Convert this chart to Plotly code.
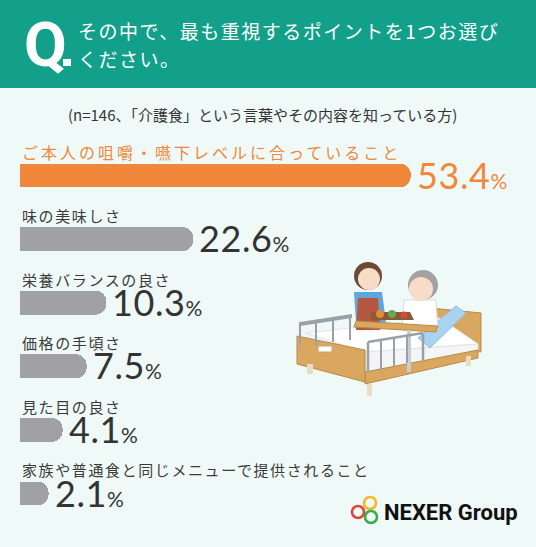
import plotly.graph_objects as go

W, H = 536, 547

categories = [
    "ご本人の咀嚼・嚥下レベルに合っていること",
    "味の美味しさ",
    "栄養バランスの良さ",
    "価格の手頃さ",
    "見た目の良さ",
    "家族や普通食と同じメニューで提供されること",
]
values = [53.4, 22.6, 10.3, 7.5, 4.1, 2.1]
question = ["その中で、最も重視するポイントを1つお選び", "ください。"]
note = "(n=146、「介護食」という言葉やその内容を知っている方)"
brand = "NEXER Group"

ORANGE = "#f0873a"
GRAY = "#a1a1a5"
TEAL = "#13a08b"
BG = "#effaf8"
DARK = "#333333"
JP = "Noto Sans CJK JP"
NUM = "Lato"

PAD = 1.94  # short lead-in so tiny bars still show


def px(x, y):
    return x / W, 1 - y / H


def poly(pts, fill, line=None, lw=1):
    path = "M " + " L ".join("%.4f,%.4f" % px(x, y) for x, y in pts) + " Z"
    return dict(type="path", xref="paper", yref="paper", path=path,
                fillcolor=fill, line=dict(color=line or fill, width=lw if line else 0))


def rect(x0, y0, x1, y1, fill, line=None, lw=1):
    a, b = px(x0, y1)
    c, d = px(x1, y0)
    return dict(type="rect", xref="paper", yref="paper", x0=a, y0=b, x1=c, y1=d,
                fillcolor=fill, line=dict(color=line or fill, width=lw if line else 0))


def circ(cx, cy, r, fill, line=None, lw=1):
    a, b = px(cx - r, cy + r)
    c, d = px(cx + r, cy - r)
    return dict(type="circle", xref="paper", yref="paper", x0=a, y0=b, x1=c, y1=d,
                fillcolor=fill, line=dict(color=line or fill, width=lw if line else 0))


def seg(x0, y0, x1, y1, color, lw=2):
    a, b = px(x0, y0)
    c, d = px(x1, y1)
    return dict(type="line", xref="paper", yref="paper", x0=a, y0=b, x1=c, y1=d,
                line=dict(color=color, width=lw))


ys = list(range(len(values)))
colors = [ORANGE] + [GRAY] * (len(values) - 1)

fig = go.Figure()
# lead-in segment (square end) + value segment (rounded end), stacked
fig.add_trace(go.Bar(
    x=[PAD] * len(values), y=ys, orientation="h",
    marker=dict(color=colors, line=dict(width=0)), width=0.377,
    hoverinfo="skip", showlegend=False,
))
fig.add_trace(go.Bar(
    x=values, y=ys, orientation="h",
    marker=dict(color=colors, line=dict(width=0)), width=0.377,
    hoverinfo="skip", showlegend=False,
))

annotations = []
for i, (c, v) in enumerate(zip(categories, values)):
    col = ORANGE if i == 0 else DARK
    annotations.append(dict(
        x=20 / W, xref="paper", y=i - 0.37, yref="y", xanchor="left", yanchor="middle",
        text="<span style='letter-spacing:%spx'>%s</span>" % ("3" if i == 0 else "1.6", c),
        showarrow=False, font=dict(family=JP, size=16 if i == 0 else 15,
                                   color=ORANGE if i == 0 else "#3a3a3a"),
    ))
    annotations.append(dict(
        x=v + PAD, xref="x", y=i, yref="y", xanchor="left", yanchor="middle", xshift=4, yshift=1,
        text="<span style='letter-spacing:0.6px'>%s</span><span style='font-size:21px'>%%</span>" % v,
        showarrow=False, font=dict(family=NUM, size=36, color=col),
    ))

# header
annotations.append(dict(x=22 / W, y=1 - 44 / H, xref="paper", yref="paper", xanchor="left",
                        yanchor="middle", text="<b>Q</b>", showarrow=False,
                        font=dict(family="Roboto", size=62, color="white")))
for k, line in enumerate(question):
    annotations.append(dict(x=76 / W, y=1 - (31 + 27 * k) / H, xref="paper", yref="paper",
                            xanchor="left", yanchor="middle", showarrow=False,
                            text="<span style='letter-spacing:1.5px'>%s</span>" % line,
                            font=dict(family=JP, size=19, color="white")))
annotations.append(dict(x=262 / W, y=1 - 115 / H, xref="paper", yref="paper",
                        xanchor="center", yanchor="middle", showarrow=False, text=note,
                        font=dict(family=JP, size=15, color=DARK)))
annotations.append(dict(x=382 / W, y=1 - 512 / H, xref="paper", yref="paper",
                        xanchor="left", yanchor="middle", showarrow=False,
                        text="<b>%s</b>" % brand,
                        font=dict(family="Roboto", size=22, color="#111111")))

TAN = "#d9a75f"
TAN_D = "#b98a45"
RAIL = "#9aa0a8"
shapes = [
    rect(0, 0, W, 88, TEAL),
    rect(63, 59, 71, 66, "white"),
    # back rail
    poly([(300, 322), (352, 314), (352, 318), (300, 326)], RAIL),
    # headboard
    poly([(430, 308), (481, 313), (481, 352), (440, 348)], TAN, TAN_D),
    # mattress
    poly([(305, 333), (440, 318), (478, 344), (365, 352)], "white", "#dfe4e6"),
    poly([(365, 352), (478, 344), (478, 352), (365, 372)], "#f3f5f6", "#dfe4e6"),
    # backrest
    poly([(418, 338), (456, 306), (466, 313), (430, 348)], "#a9d3ef", "#8cbfe2"),
    # base rail
    poly([(365, 372), (478, 350), (478, 358), (365, 384)], TAN, TAN_D),
    # footboard
    poly([(297, 336), (365, 350), (365, 382), (297, 364)], TAN, TAN_D),
    rect(318, 346, 332, 352, "white", "#c9a26a"),
    # legs
    rect(307, 364, 313, 374, "#e9dcc1"),
    rect(367, 384, 372, 396, "#e9dcc1"),
    rect(466, 356, 471, 366, "#e9dcc1"),
    # nurse
    poly([(354, 292), (382, 292), (386, 322), (356, 322)], "#5ea6dc"),
    poly([(358, 298), (378, 298), (380, 330), (356, 330)], "#b5573f"),
    circ(368, 276, 14, "#6b4a3a"),
    circ(369, 279, 11, "#f8dcc8"),
    # patient
    poly([(404, 300), (436, 300), (438, 330), (402, 330)], "white", "#d6dadc"),
    circ(423, 285, 15, "#a2a2a2"),
    circ(421, 289, 12, "#f8dcc8"),
    # table and tray
    poly([(356, 321), (438, 326), (436, 332), (354, 327)], TAN, TAN_D),
    rect(407, 330, 411, 372, "#c9ccd0"),
    poly([(372, 312), (410, 312), (414, 320), (370, 320)], "#8a5a36"),
    circ(380, 314, 4, "#e08a3c"),
    circ(392, 314, 4, "#6aa84f"),
    circ(404, 315, 3.5, "#d64b3a"),
    # rails
    seg(368, 342, 423, 333, RAIL, 2.5),
    seg(368, 342, 368, 372, RAIL, 2.5),
    seg(381, 340, 381, 370, RAIL, 2),
    seg(394, 338, 394, 366, RAIL, 2),
    seg(407, 336, 407, 363, RAIL, 2),
    seg(423, 333, 423, 360, RAIL, 2.5),
    seg(300, 322, 300, 345, RAIL, 2),
    seg(316, 320, 316, 345, RAIL, 2),
    seg(333, 317, 333, 342, RAIL, 2),
    seg(350, 315, 350, 340, RAIL, 2),
    # logo rings
    circ(370, 503, 6, "rgba(0,0,0,0)", "#f2b929", 2.6),
    circ(358, 512, 6, "rgba(0,0,0,0)", "#e0463a", 2.6),
    circ(371, 517, 6, "rgba(0,0,0,0)", "#3aaa4a", 2.6),
]

x_left = -20 / 7.06
x_right = (W - 20) / 7.06
y_top = -175.5 / 63.6
y_bot = (H - 175.5) / 63.6

fig.update_layout(
    width=W, height=H, margin=dict(l=0, r=0, t=0, b=0),
    paper_bgcolor=BG, plot_bgcolor=BG,
    barmode="stack", barcornerradius=12,
    xaxis=dict(range=[x_left, x_right], visible=False, fixedrange=True),
    yaxis=dict(range=[y_bot, y_top], visible=False, fixedrange=True),
    annotations=annotations, shapes=shapes, showlegend=False,
)

fig.write_html("out.html", config={"displayModeBar": False},
               post_script="document.body.style.margin='0px';document.body.style.overflow='hidden';")
